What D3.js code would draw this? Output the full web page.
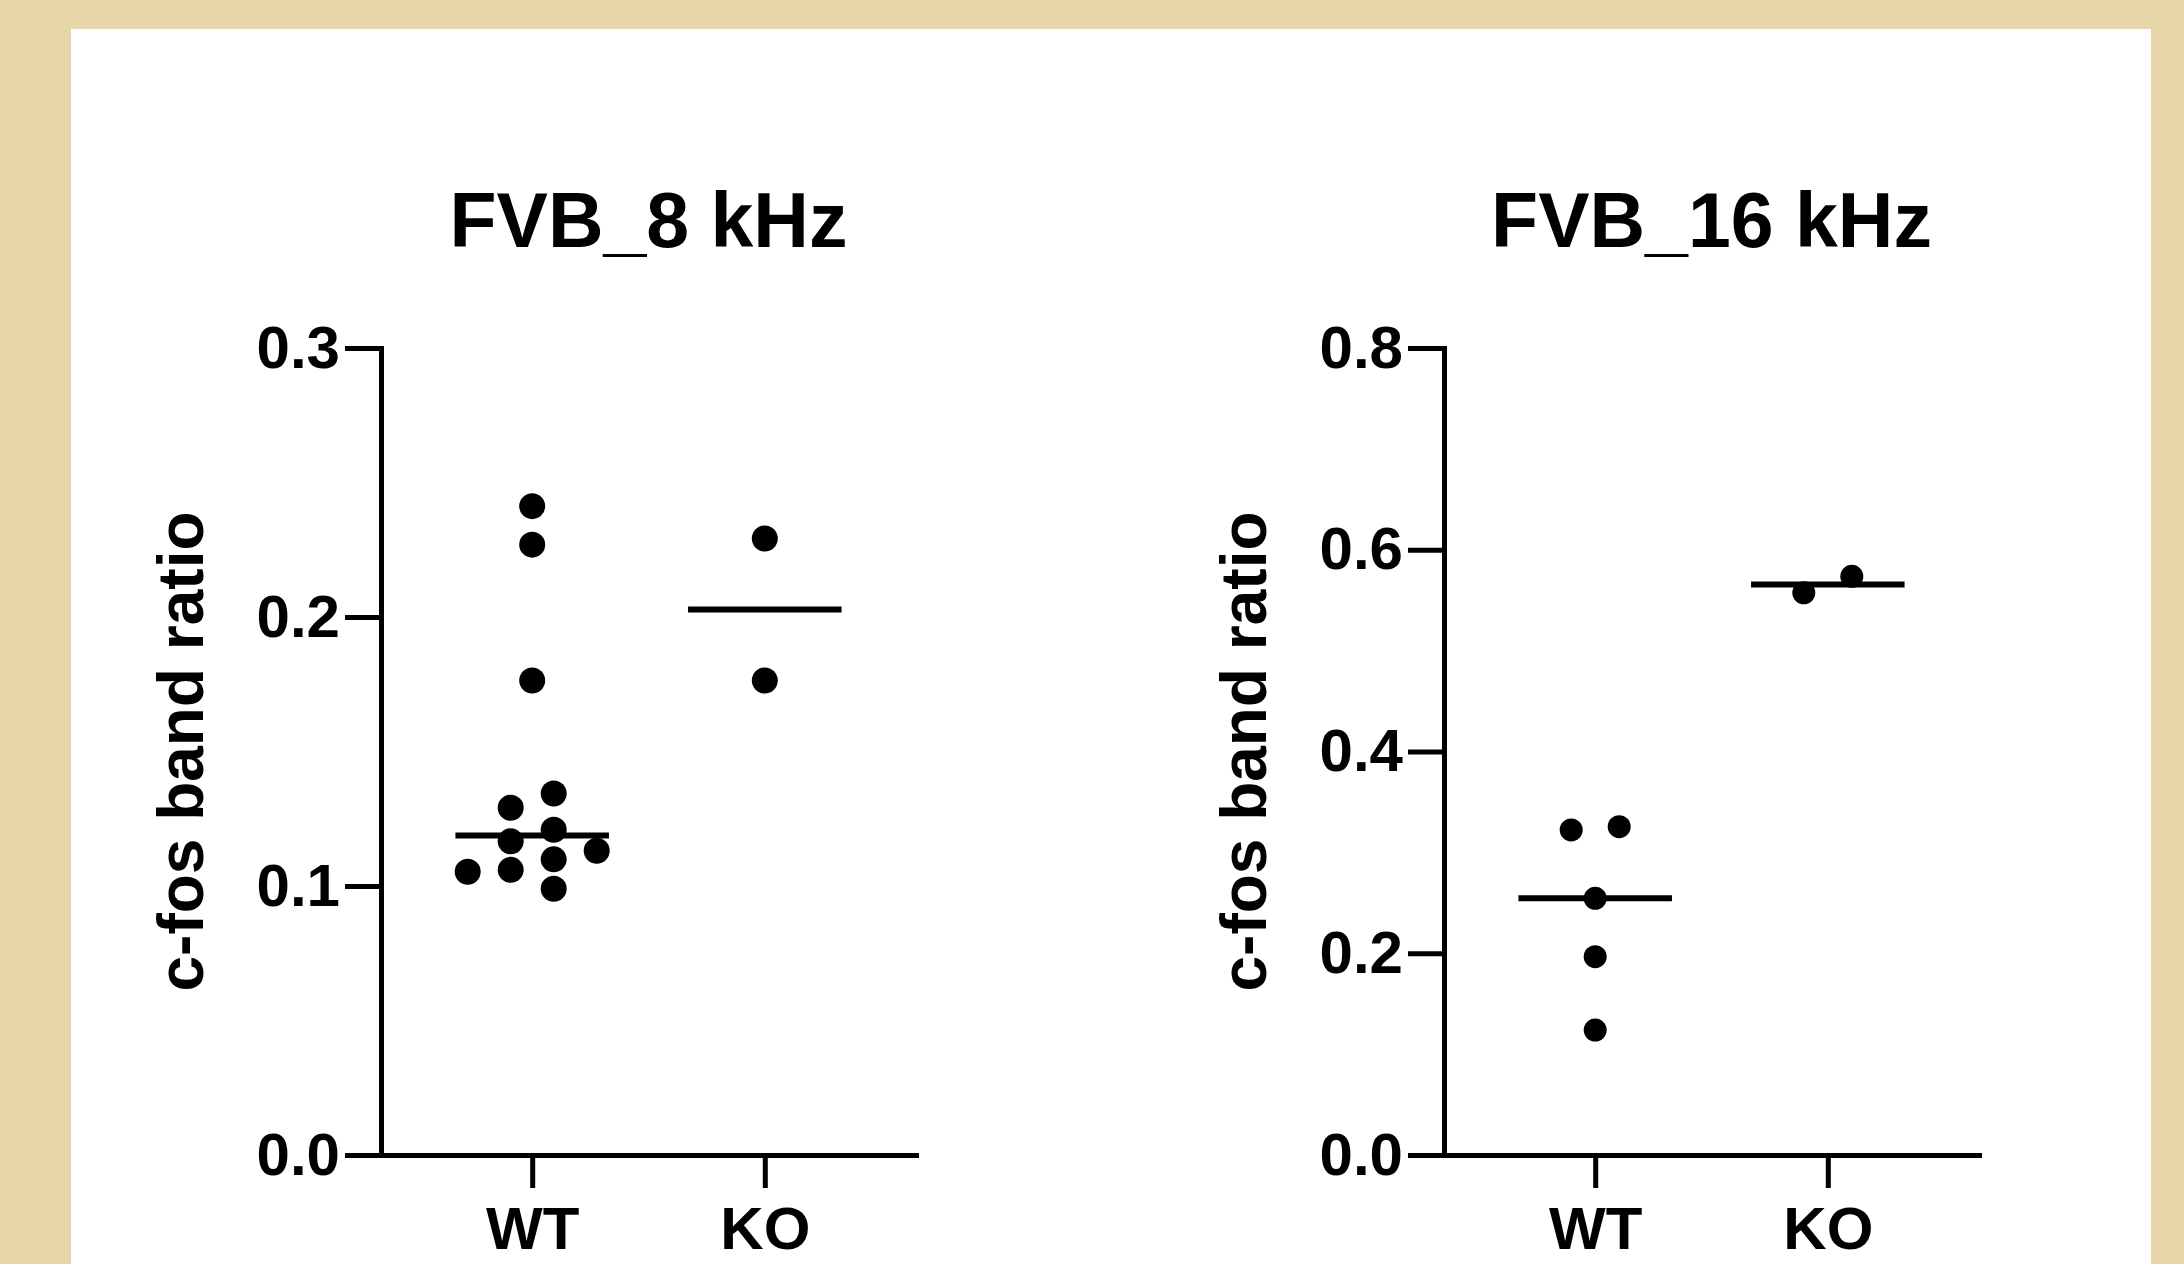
<!DOCTYPE html>
<html>
<head>
<meta charset="utf-8">
<script src="https://cdn.jsdelivr.net/npm/d3@7"></script>
<style>
    body { margin: 0; background: #e7d6a9; }
    svg { display: block; }
    text { font-family: "Liberation Sans", Arial, Helvetica, sans-serif; font-weight: bold; fill: #000; }
</style>
</head>
<body>
<div id="figure"></div>
<script>
// values (c-fos band ratio)
var groups = ["WT", "KO"];
var wt8 = [0.2412, 0.2269, 0.1764, 0.1344, 0.1291, 0.1209, 0.1166, 0.1131, 0.1099, 0.1060, 0.1053, 0.0990];
var ko8 = [0.2292, 0.1764];
var wt16 = [0.3255, 0.3222, 0.2545, 0.1966, 0.1239];
var ko16 = [0.5737, 0.5573];
var ticks8 = [0, 0.1, 0.2, 0.3];
var ticks16 = [0, 0.2, 0.4, 0.6, 0.8];
var titles = ["FVB_8 kHz", "FVB_16 kHz"];
var yLabel = "c-fos band ratio";

var width = 2184;
var height = 1264;
var plotTop = 348;
var plotBottom = 1155;
var plotWidth = 535;

var panels = [
    {title: titles[0], wt: wt8, ko: ko8, max: 0.3, ticks: ticks8, left: 381, r: 13, step: 43, gap: 27},
    {title: titles[1], wt: wt16, ko: ko16, max: 0.8, ticks: ticks16, left: 1444, r: 11.5, step: 48, gap: 25}
];

var svg = d3.select("#figure").append("svg")
    .attr("width", width)
    .attr("height", height);

svg.append("rect")
    .attr("x", 71)
    .attr("y", 29)
    .attr("width", 2080)
    .attr("height", height - 29)
    .attr("fill", "#fff");

panels.forEach(drawPanel);

// greedy column layout like a scatter dot plot, then centre each clump
function swarm(values, y, gap) {
    var pts = values.map(function (v) {
        return {value: v, y: y(v), col: 0};
    });
    pts.sort(function (a, b) { return a.y - b.y; });

    var placed = [];
    pts.forEach(function (p) {
        for (var k = 0; k < 50; k++) {
            var c = k === 0 ? 0 : (k % 2 ? -Math.ceil(k / 2) : k / 2);
            var hit = placed.some(function (q) {
                return q.col === c && Math.abs(q.y - p.y) < gap;
            });
            if (!hit) {
                p.col = c;
                break;
            }
        }
        placed.push(p);
    });

    var clump = [];
    function flush() {
        if (!clump.length) return;
        var lo = d3.min(clump, function (d) { return d.col; });
        var hi = d3.max(clump, function (d) { return d.col; });
        clump.forEach(function (d) { d.col -= (lo + hi) / 2; });
        clump = [];
    }
    pts.forEach(function (p, i) {
        if (i > 0 && p.y - pts[i - 1].y >= gap) flush();
        clump.push(p);
    });
    flush();
    return pts;
}

function drawPanel(p) {
    var x = d3.scalePoint()
        .domain(groups)
        .range([p.left, p.left + plotWidth])
        .padding(0.65);
    var y = d3.scaleLinear()
        .domain([0, p.max])
        .range([plotBottom, plotTop]);

    var g = svg.append("g");

    g.append("text")
        .attr("x", p.left + plotWidth / 2)
        .attr("y", 247)
        .attr("text-anchor", "middle")
        .style("font-size", "77px")
        .text(p.title);

    g.append("text")
        .attr("transform", "translate(" + (p.left - 178) + "," + ((plotTop + plotBottom) / 2) + ") rotate(-90)")
        .attr("text-anchor", "middle")
        .style("font-size", "64px")
        .text(yLabel);

    var yAxis = g.append("g")
        .attr("transform", "translate(" + p.left + ",0)")
        .call(d3.axisLeft(y)
            .tickValues(p.ticks)
            .tickFormat(d3.format(".1f"))
            .tickSizeInner(36)
            .tickSizeOuter(0)
            .tickPadding(5));

    var xAxis = g.append("g")
        .attr("transform", "translate(0," + plotBottom + ")")
        .call(d3.axisBottom(x)
            .tickSizeInner(33)
            .tickSizeOuter(0)
            .tickPadding(18));

    [yAxis, xAxis].forEach(function (a) {
        a.selectAll("path, line")
            .attr("stroke", "#000")
            .attr("stroke-width", 5);
        a.select(".domain").attr("stroke-linecap", "square");
        a.selectAll("text")
            .attr("fill", "#000")
            .style("font-size", "60px");
    });

    groups.forEach(function (grp) {
        var vals = grp === "WT" ? p.wt : p.ko;
        var pts = swarm(vals, y, p.gap);

        g.selectAll(null)
            .data(pts)
            .enter().append("circle")
            .attr("cx", function (d) { return x(grp) + d.col * p.step; })
            .attr("cy", function (d) { return y(d.value); })
            .attr("r", p.r)
            .attr("fill", "#000");

        var med = d3.median(vals);
        g.append("line")
            .attr("x1", x(grp) - x.step() * 0.33)
            .attr("x2", x(grp) + x.step() * 0.33)
            .attr("y1", y(med))
            .attr("y2", y(med))
            .attr("stroke", "#000")
            .attr("stroke-width", 6);
    });
}
</script>
</body>
</html>
